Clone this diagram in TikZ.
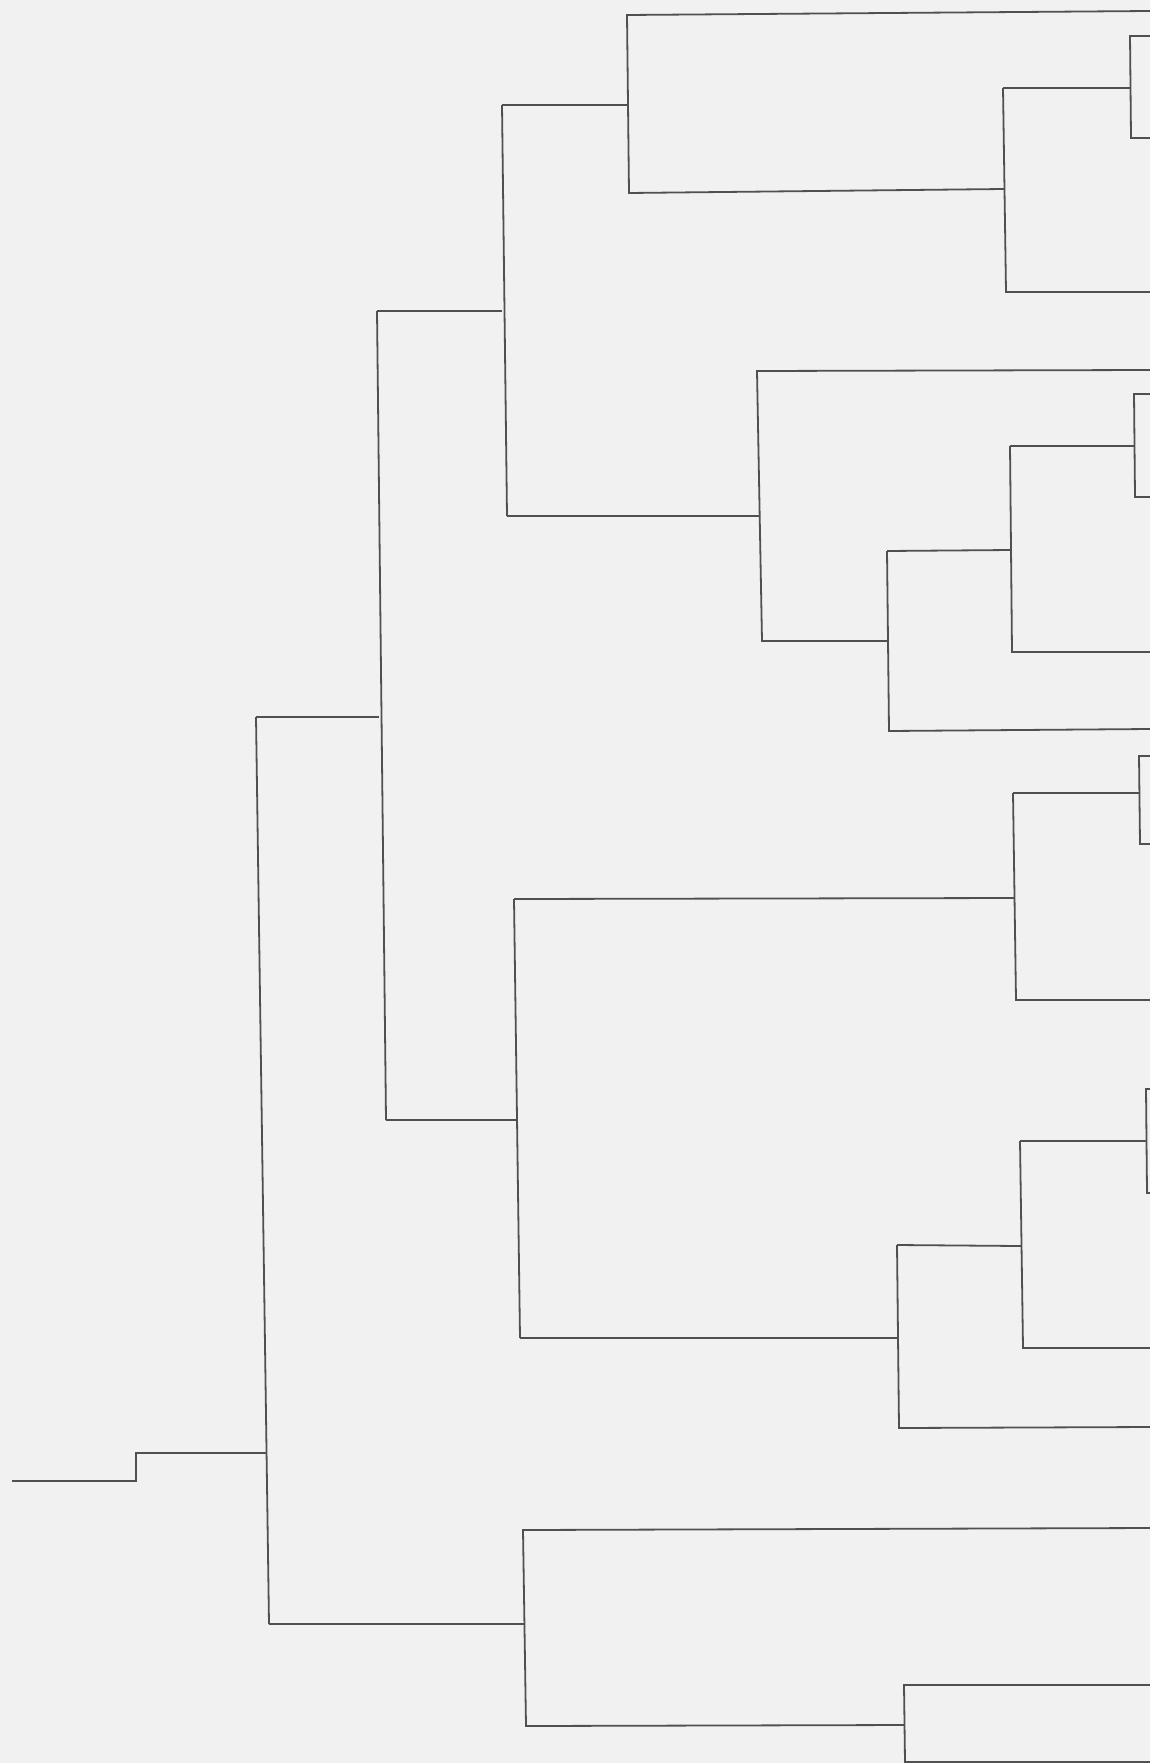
\documentclass[tikz,border=0pt]{standalone}
\definecolor{paper}{RGB}{241,241,241}
\definecolor{ink}{RGB}{80,80,80}
\begin{document}
\begin{tikzpicture}[x=1pt,y=-1pt,
  link/.style={draw=ink,line width=1.8pt,line join=miter}]
\fill[paper] (0,0) rectangle (1150,1763);
\useasboundingbox (0,0) rectangle (1150,1763);
% root stem
\coordinate (s0) at (12,1481);
\coordinate (s1) at (136,1481);
\coordinate (s2) at (136,1453);
\coordinate (s3) at (266,1453);
% internal node verticals (top / bottom)
\coordinate (At) at (256,717);  \coordinate (Ab) at (269,1624);
\coordinate (Bt) at (377,311);  \coordinate (Bb) at (386,1120);
\coordinate (Bm) at (379,717);
\coordinate (Ct) at (502,105);  \coordinate (Cb) at (507,516);
\coordinate (Cm) at (502,311);
\coordinate (Dt) at (627,15);   \coordinate (Db) at (629,193);
\coordinate (Dm) at (627,105);
\coordinate (Et) at (1003,88);  \coordinate (Eb) at (1006,292);
\coordinate (Em) at (1004,189);
\coordinate (Ft) at (1130,36);  \coordinate (Fb) at (1131,138);
\coordinate (Fm) at (1130,88);
\coordinate (Gt) at (757,371);  \coordinate (Gb) at (762,641);
\coordinate (Gm) at (759,516);
\coordinate (Ht) at (887,551);  \coordinate (Hb) at (889,731);
\coordinate (Hm) at (888,641);
\coordinate (It) at (1010,446); \coordinate (Ib) at (1012,652);
\coordinate (Im) at (1011,550);
\coordinate (Jt) at (1134,394); \coordinate (Jb) at (1135,497);
\coordinate (Jm) at (1134,446);
\coordinate (Kt) at (514,899);  \coordinate (Kb) at (520,1338);
\coordinate (Km) at (516,1120);
\coordinate (Lt) at (1013,793); \coordinate (Lb) at (1016,1000);
\coordinate (Lm) at (1014,898);
\coordinate (Mt) at (1139,756); \coordinate (Mb) at (1140,844);
\coordinate (Mm) at (1139,793);
\coordinate (Nt) at (897,1245); \coordinate (Nb) at (899,1428);
\coordinate (Nm) at (898,1338);
\coordinate (Ot) at (1020,1141);\coordinate (Ob) at (1023,1348);
\coordinate (Om) at (1021,1246);
\coordinate (Pt) at (1146,1089);\coordinate (Pb) at (1147,1193);
\coordinate (Pm) at (1146,1141);
\coordinate (Qt) at (523,1530); \coordinate (Qb) at (526,1726);
\coordinate (Qm) at (524,1624);
\coordinate (Rt) at (904,1685); \coordinate (Rb) at (905,1762);
\coordinate (Rm) at (904,1725);
% leaf ends at the right edge
\coordinate (lD) at (1150,11);
\coordinate (lF1) at (1150,36);   \coordinate (lF2) at (1150,138);
\coordinate (lE) at (1150,292);
\coordinate (lG) at (1150,370);
\coordinate (lJ1) at (1150,394);  \coordinate (lJ2) at (1150,497);
\coordinate (lI) at (1150,652);
\coordinate (lH) at (1150,729);
\coordinate (lM1) at (1150,756);  \coordinate (lM2) at (1150,844);
\coordinate (lL) at (1150,1000);
\coordinate (lP1) at (1150,1089); \coordinate (lP2) at (1150,1193);
\coordinate (lO) at (1150,1348);
\coordinate (lN) at (1150,1427);
\coordinate (lQ) at (1150,1528);
\coordinate (lR1) at (1150,1685); \coordinate (lR2) at (1150,1762);
% stem
\draw[link] (s0) -- (s1) -- (s2) -- (s3);
\draw[link] (At) -- (Ab);
% branches
\draw[link] (At) -- (Bm);
\draw[link] (Bt) -- (Bb);
\draw[link] (Bt) -- (Cm);
\draw[link] (Ct) -- (Cb);
\draw[link] (Ct) -- (Dm);
\draw[link] (lD) -- (Dt) -- (Db) -- (Em);
\draw[link] (Et) -- (Eb) -- (lE);
\draw[link] (Et) -- (Fm);
\draw[link] (lF1) -- (Ft) -- (Fb) -- (lF2);
\draw[link] (Cb) -- (Gm);
\draw[link] (lG) -- (Gt) -- (Gb) -- (Hm);
\draw[link] (Ht) -- (Hb) -- (lH);
\draw[link] (Ht) -- (Im);
\draw[link] (It) -- (Ib) -- (lI);
\draw[link] (It) -- (Jm);
\draw[link] (lJ1) -- (Jt) -- (Jb) -- (lJ2);
\draw[link] (Bb) -- (Km);
\draw[link] (Kt) -- (Kb);
\draw[link] (Kt) -- (Lm);
\draw[link] (Lt) -- (Lb) -- (lL);
\draw[link] (Lt) -- (Mm);
\draw[link] (lM1) -- (Mt) -- (Mb) -- (lM2);
\draw[link] (Kb) -- (Nm);
\draw[link] (Nt) -- (Nb) -- (lN);
\draw[link] (Nt) -- (Om);
\draw[link] (Ot) -- (Ob) -- (lO);
\draw[link] (Ot) -- (Pm);
\draw[link] (lP1) -- (Pt) -- (Pb) -- (lP2);
\draw[link] (Ab) -- (Qm);
\draw[link] (lQ) -- (Qt) -- (Qb) -- (Rm);
\draw[link] (lR1) -- (Rt) -- (Rb) -- (lR2);
\end{tikzpicture}
\end{document}
